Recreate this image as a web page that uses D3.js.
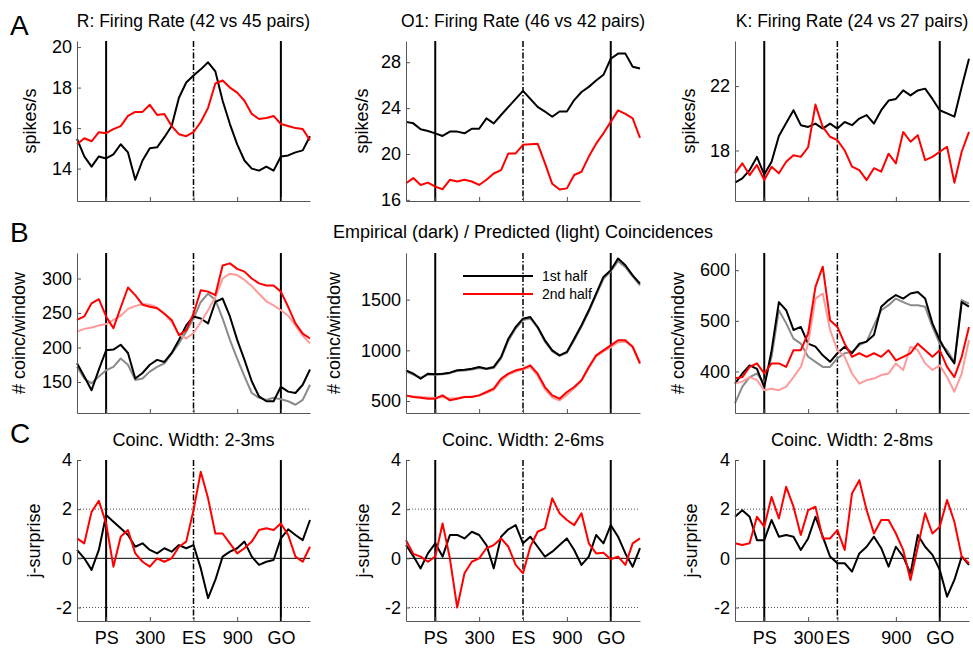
<!DOCTYPE html>
<html><head><meta charset="utf-8">
<script src="https://cdn.jsdelivr.net/npm/d3@7"></script>
<style>body{margin:0;background:#fff} text{font-family:"Liberation Sans",Arial,sans-serif;fill:#000}</style>
</head><body><svg id="chart" width="973" height="649"></svg>
<script>
// ---- shared time axis (ms relative to PS) ----
const timeMs = [-200,-150,-100,-50,0,50,100,150,200,250,300,350,400,450,500,550,600,650,700,750,800,850,900,950,1000,1050,1100,1150,1200,1250,1300,1350,1400];
const xTickLabels = ["PS","300","ES","900","GO"];
const xTicksRO = [0,300,600,900,1200];
const xTicksK  = [0,300,500,900,1200];
const eventsRO = [0,600,1200];
const eventsK  = [0,500,1200];
const legendLabels = ["1st half","2nd half"];
const monkeyTitlesA = ["R: Firing Rate (42 vs 45 pairs)","O1: Firing Rate (46 vs 42 pairs)","K: Firing Rate (24 vs 27 pairs)"];
const titleB = "Empirical (dark) / Predicted (light) Coincidences";
const titlesC = ["Coinc. Width: 2-3ms","Coinc. Width: 2-6ms","Coinc. Width: 2-8ms"];

// ---- row A: firing rates (spikes/s) ----
const frR_1st = [15.47,14.6,14.1,14.6,14.5,14.7,15.2,14.8,13.45,14.4,15.0,15.05,15.55,16.1,17.5,18.25,18.6,18.9,19.25,18.8,17.35,16.2,15.2,14.4,14.0,13.9,14.1,13.9,14.6,14.65,14.8,14.9,15.6];
const frR_2nd = [15.2,15.5,15.35,15.8,15.75,15.95,16.1,16.6,16.8,16.8,17.15,16.65,16.7,16.1,15.7,15.6,15.8,16.3,17.0,18.2,18.35,18.0,17.75,17.35,16.7,16.45,16.5,16.6,16.2,16.1,16.0,15.95,15.4];
const frO1_1st = [22.8,22.67,22.15,22.0,21.8,21.57,21.95,21.95,21.8,22.2,22.2,23.1,22.67,23.4,24.1,24.8,25.5,24.8,24.1,23.7,23.25,23.7,23.7,24.7,25.4,25.85,26.4,26.9,28.3,28.75,28.75,27.6,27.45];
const frO1_2nd = [17.45,17.9,17.3,17.5,17.15,16.93,17.75,17.6,17.75,17.6,17.3,17.75,18.3,18.6,20.05,20.05,20.8,20.85,20.9,19.2,17.4,16.9,17.0,18.17,18.45,19.77,20.9,21.8,22.8,23.8,23.5,23.1,21.4];
const frK_1st = [16.0,16.27,16.78,17.6,16.5,17.3,18.9,19.7,20.5,19.57,19.46,19.67,19.36,19.67,19.36,19.77,19.57,19.98,20.2,19.67,20.5,21.1,21.2,21.73,21.42,21.73,21.84,21.2,20.5,20.3,20.1,21.94,23.7];
const frK_2nd = [16.58,17.2,16.47,17.1,16.16,16.99,16.58,17.3,17.7,17.6,18.2,20.85,19.46,18.85,18.64,18.0,17.0,16.78,16.16,16.9,16.68,17.8,17.2,19.15,18.54,18.95,17.4,17.6,17.92,18.23,16.0,17.92,19.15];

// ---- row B: coincidences per window ----
const coR_emp1 = [177,158,138,168,196,197,204,192,155,163,175,182,179,192,211,232,245,242,235,266,271,245,211,182,151,129,122,122,143,136,134,146,168];
const coR_pred1 = [172,155,148,158,167,172,184,175,153,155,165,172,177,191,206,223,242,266,278,269,242,211,184,158,134,127,124,127,125,122,117,124,146];
const coR_emp2 = [240,245,264,270,245,228,258,287,276,262,259,257,249,240,218,225,249,283,281,276,319,322,314,310,300,293,290,290,281,259,235,220,213];
const coR_pred2 = [223,227,229,232,234,240,246,256,260,263,262,258,249,237,219,213,221,237,254,273,300,307,305,298,289,278,267,261,254,246,232,217,206];
const coO1_emp1 = [803,770,720,770,763,770,780,803,809,819,836,819,836,934,1115,1230,1312,1329,1230,1099,1000,951,984,1115,1247,1395,1559,1724,1789,1905,1839,1740,1658];
const coO1_pred1 = [790,760,730,760,760,765,775,795,800,810,825,815,825,920,1095,1215,1300,1315,1225,1085,990,945,975,1100,1235,1380,1545,1705,1780,1880,1820,1730,1640];
const coO1_emp2 = [556,539,533,523,523,556,507,523,539,539,556,589,622,720,770,803,819,852,770,638,556,523,589,638,704,836,951,1000,1049,1099,1099,1033,868];
const coO1_pred2 = [550,545,540,535,530,540,525,530,540,545,555,580,610,700,760,790,810,835,750,615,535,505,560,625,700,825,940,990,1030,1080,1085,1040,880];
const coK_emp1 = [376,396,412,405,369,441,537,521,482,488,455,449,432,419,436,449,436,455,459,472,528,541,551,544,554,557,544,495,462,436,416,537,528];
const coK_pred1 = [337,370,389,396,376,429,521,495,465,455,429,419,409,409,426,436,439,452,459,491,521,531,544,537,531,531,528,488,455,442,419,541,534];
const coK_emp2 = [386,389,409,416,396,416,416,409,442,442,475,567,607,501,488,455,429,436,429,436,429,442,422,429,436,455,442,429,442,409,389,429,488];
const coK_pred2 = [376,380,389,383,363,366,363,370,389,409,455,544,554,482,442,429,396,376,383,386,393,396,416,403,449,442,416,403,412,389,360,396,462];

// ---- row C: j-surprise ----
const jsR_1st = [0.34,0,-0.47,0.34,1.76,1.49,1.22,0.95,0.47,0.61,0.34,0.2,0.41,0.27,0.54,0.41,0.54,-0.41,-1.62,-0.88,0.07,0.27,0.41,0.68,0.07,-0.27,-0.14,-0.07,0.81,1.18,0.95,0.74,1.56];
const jsR_2nd = [0.81,0.61,1.89,2.34,1.42,-0.34,0.88,1.15,0.2,-0.14,-0.34,0,-0.14,0,0.47,0.68,1.96,3.52,2.44,1.01,1.01,0.61,0.2,0.41,0.68,1.15,1.22,1.15,1.42,0.95,0.07,-0.14,0.47];
const jsO1_1st = [0.54,0.09,-0.41,0.2,0.61,0.07,0.95,0.95,0.81,1.08,0.95,0.54,-0.41,0.88,1.18,1.35,0.61,0.88,0.47,0.07,0.27,0.54,0.81,0.34,-0.27,0.07,0.95,0.61,1.35,0.88,0.2,-0.34,0.41];
const jsO1_2nd = [0.74,0.18,0.07,-0.14,0.07,1.42,0,-2.0,-0.61,-0.14,0,0.41,0.54,0.81,0.47,-0.27,-0.61,0.47,1.08,1.22,2.44,1.83,1.56,1.35,1.83,0.61,0.2,0.23,-0.04,0.07,-0.27,0.61,0.81];
const jsK_1st = [1.69,1.96,1.69,0.74,0.74,1.56,0.88,0.95,0.88,0.34,0.81,1.69,0.88,0.07,-0.2,-0.2,-0.54,0.2,0.47,0.88,0.41,-0.34,0.47,0.07,-0.61,0.95,0.47,0.14,-0.47,-1.56,-0.88,0.07,-0.27];
const jsK_2nd = [0.61,0.54,0.61,1.69,1.29,2.5,1.62,2.91,2.1,0.95,1.96,2.1,0.81,0.81,1.15,0.34,2.64,3.18,1.96,1.01,1.56,1.56,1.01,0.34,-0.88,0.47,1.83,1.01,1.29,2.37,1.49,0.07,-0.2];

// ---- y tick values ----
const yTicksA = [[14,16,18,20],[16,20,24,28],[18,22]];
const yTicksB = [[150,200,250,300],[500,1000,1500],[400,500,600]];
const yTicksC = [-2,0,2,4];

// ---- colours ----
const cBlack="#000000", cGray="#8a8a8a", cRed="#ff0000", cPink="#ff9a9a";

// ---- layout ----
const colX=[77,406,735], colW=[233,234,234];
const rowY=[41,253,460], rowH=[160,160,161];
const yDomA=[[12.4,20.3],[15.9,29.85],[14.86,24.8]];
const yDomB=[[105,337],[382,1960],[318,634]];
const yDomC=[-2.55,4];
const ylabX=[[30,362,689],[19,334,678],[34,363,691]];
const ylabText=["spikes/s","# coinc/window","j-surprise"];
const FS_TICK=18, FS_TITLE=18, FS_YLAB=18;

const svg=d3.select("#chart");
svg.append("rect").attr("width",973).attr("height",649).attr("fill","#fff");

const seriesA=[[frR_1st,frR_2nd],[frO1_1st,frO1_2nd],[frK_1st,frK_2nd]];
const seriesB=[[coR_pred1,coR_emp1,coR_pred2,coR_emp2],[coO1_pred1,coO1_emp1,coO1_pred2,coO1_emp2],[coK_pred1,coK_emp1,coK_pred2,coK_emp2]];
const seriesC=[[jsR_1st,jsR_2nd],[jsO1_1st,jsO1_2nd],[jsK_1st,jsK_2nd]];

for(let r=0;r<3;r++){
  for(let c=0;c<3;c++){
    const x0=colX[c], w=colW[c], y0=rowY[r], h=rowH[r];
    const g=svg.append("g").attr("transform",`translate(${x0},${y0})`);
    const x=d3.scaleLinear().domain([-200,1400]).range([0,w]);
    const dom = r===0?yDomA[c]:(r===1?yDomB[c]:yDomC);
    const y=d3.scaleLinear().domain(dom).range([h,0]);
    const ev = c===2?eventsK:eventsRO;
    const xt = c===2?xTicksK:xTicksRO;

    if(r===2){
      [-2,2].forEach(v=>g.append("line").attr("x1",0).attr("x2",w).attr("y1",y(v)).attr("y2",y(v))
        .attr("stroke","#555").attr("stroke-width",1).attr("stroke-dasharray","1,2"));
      g.append("line").attr("x1",0).attr("x2",w).attr("y1",y(0)).attr("y2",y(0)).attr("stroke","#000").attr("stroke-width",1);
    }
    // event lines
    ev.forEach((e,i)=>{
      const ln=g.append("line").attr("x1",x(e)).attr("x2",x(e)).attr("y1",0).attr("y2",h).attr("stroke","#000");
      if(i===1) ln.attr("stroke-width",1.5).attr("stroke-dasharray","6,2,1.5,2");
      else ln.attr("stroke-width",2);
    });
    // data
    const line=d3.line().x((d,i)=>x(timeMs[i])).y(d=>y(d));
    let sers, cols;
    if(r===0){sers=seriesA[c]; cols=[cBlack,cRed];}
    else if(r===1){sers=seriesB[c]; cols=[cGray,cBlack,cPink,cRed];}
    else {sers=seriesC[c]; cols=[cBlack,cRed];}
    sers.forEach((s,i)=>g.append("path").datum(s).attr("d",line).attr("fill","none")
      .attr("stroke",cols[i]).attr("stroke-width",2).attr("stroke-linejoin","round"));

    // axes
    const yt = r===0?yTicksA[c]:(r===1?yTicksB[c]:yTicksC);
    const ya=g.append("g").call(d3.axisLeft(y).tickValues(yt).tickSizeInner(-4).tickSizeOuter(0).tickPadding(5).tickFormat(d=>String(d)));
    const xa=g.append("g").attr("transform",`translate(0,${h})`)
      .call(d3.axisBottom(x).tickValues(xt).tickSizeInner(-4).tickSizeOuter(0).tickPadding(10)
        .tickFormat((d,i)=> r===2?xTickLabels[i]:""));
    [ya,xa].forEach(a=>{
      a.select(".domain").attr("stroke","#555");
      a.selectAll(".tick line").attr("stroke","#555");
      a.selectAll("text").attr("font-size",FS_TICK).attr("font-family","Liberation Sans, Arial, sans-serif").attr("fill","#000");
    });

    // y label
    svg.append("text").attr("transform",`translate(${ylabX[r][c]},${y0+h/2}) rotate(-90)`)
      .attr("text-anchor","middle").attr("dominant-baseline","central").attr("font-size",FS_YLAB).text(ylabText[r]);

    // titles
    if(r===0) svg.append("text").attr("x",x0+w/2).attr("y",27).attr("text-anchor","middle").attr("font-size",17.5).text(monkeyTitlesA[c]);
    if(r===2) svg.append("text").attr("x",x0+w/2).attr("y",446).attr("text-anchor","middle").attr("font-size",FS_TITLE).text(titlesC[c]);
    if(r===1 && c===1){
      svg.append("text").attr("x",x0+w/2).attr("y",238).attr("text-anchor","middle").attr("font-size",FS_TITLE).text(titleB);
      // legend
      [[cBlack,276],[cRed,294]].forEach((l,i)=>{
        svg.append("line").attr("x1",463).attr("x2",533).attr("y1",l[1]).attr("y2",l[1]).attr("stroke",l[0]).attr("stroke-width",2);
        svg.append("text").attr("x",542).attr("y",l[1]).attr("dominant-baseline","central").attr("font-size",14).text(legendLabels[i]);
      });
    }
  }
}
// panel letters
[["A",35],["B",242],["C",443]].forEach(p=>svg.append("text").attr("x",10).attr("y",p[1]).attr("font-size",28).text(p[0]));
</script></body></html>
